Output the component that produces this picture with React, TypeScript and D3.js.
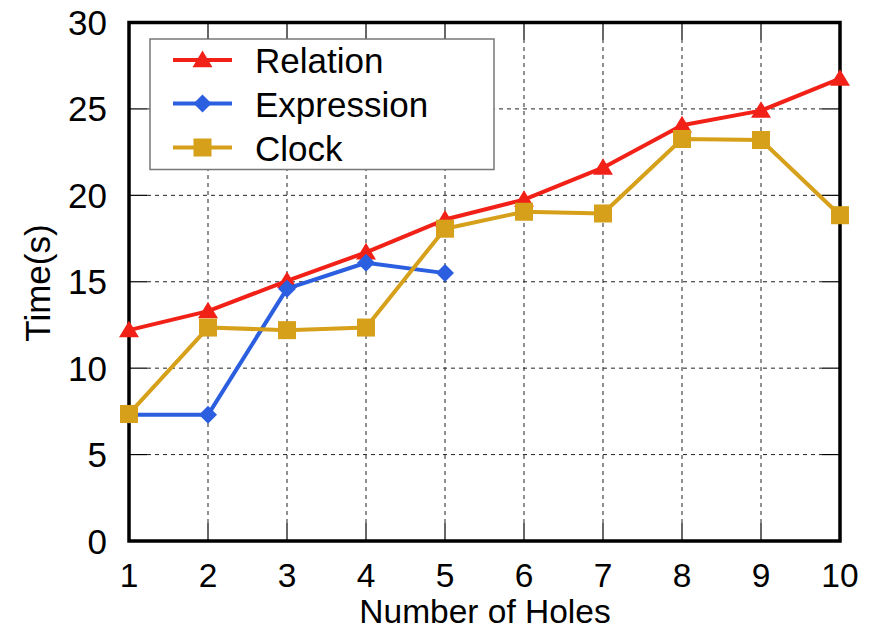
import React from "react";
import * as d3 from "d3";

const holes = [1, 2, 3, 4, 5, 6, 7, 8, 9, 10];
const relation = [12.2, 13.3, 15.05, 16.7, 18.6, 19.75, 21.6, 24.05, 24.9, 26.75];
const expression = [7.3, 7.3, 14.6, 16.1, 15.5];
const clock = [7.35, 12.35, 12.2, 12.35, 18.07, 19.05, 18.95, 23.26, 23.2, 18.85];
const yTicks = [0, 5, 10, 15, 20, 25, 30];

const W = 881, H = 630;
const L = 129, R = 840, T = 22.5, B = 541;

const series = [
  { name: "Relation", values: relation, color: "#f22118", marker: "triangle" },
  { name: "Expression", values: expression, color: "#2b5fe0", marker: "diamond" },
  { name: "Clock", values: clock, color: "#d6a01a", marker: "square" },
];

function Marker({ type, x, y, color }: { type: string; x: number; y: number; color: string }) {
  if (type === "triangle") {
    const s = 9.5;
    return <path d={`M${x},${y - s} L${x + s * 1.05},${y + s * 0.75} L${x - s * 1.05},${y + s * 0.75} Z`} fill={color} />;
  }
  if (type === "diamond") {
    const s = 9;
    return <path d={`M${x},${y - s} L${x + s},${y} L${x},${y + s} L${x - s},${y} Z`} fill={color} />;
  }
  const s = 9;
  return <rect x={x - s} y={y - s} width={2 * s} height={2 * s} fill={color} />;
}

export default function App() {
  const x = d3.scaleLinear().domain([1, 10]).range([L, R]);
  const y = d3.scaleLinear().domain([0, 30]).range([B, T]);
  const line = d3.line<number>().x((_, i) => x(holes[i])).y((d) => y(d));
  const font = "Liberation Sans, Arial, sans-serif";
  const tickLen = 18;
  const legend = { x: 150, y: 39, w: 344, h: 130.5 };
  const legendRows = [60, 103.5, 147.5];

  return (
    <svg width={W} height={H} style={{ position: "absolute", left: 0, top: 0 }} fontFamily={font}>
      <rect width={W} height={H} fill="#fff" />
      {/* grid */}
      {holes.slice(1, -1).map((h) => (
        <line key={"gx" + h} x1={x(h)} x2={x(h)} y1={B - tickLen} y2={T + tickLen} stroke="#222" strokeWidth={1} strokeDasharray="4,4" />
      ))}
      {yTicks.slice(1, -1).map((v) => (
        <line key={"gy" + v} x1={L + tickLen} x2={R - tickLen} y1={y(v)} y2={y(v)} stroke="#222" strokeWidth={1} strokeDasharray="4,4" />
      ))}
      {/* ticks */}
      {holes.slice(1, -1).map((h) => (
        <g key={"tx" + h}>
          <line x1={x(h)} x2={x(h)} y1={B} y2={B - tickLen} stroke="#000" strokeWidth={1.2} />
          <line x1={x(h)} x2={x(h)} y1={T} y2={T + tickLen} stroke="#000" strokeWidth={1.2} />
        </g>
      ))}
      {yTicks.slice(1, -1).map((v) => (
        <g key={"ty" + v}>
          <line x1={L} x2={L + tickLen} y1={y(v)} y2={y(v)} stroke="#000" strokeWidth={1.2} />
          <line x1={R} x2={R - tickLen} y1={y(v)} y2={y(v)} stroke="#000" strokeWidth={1.2} />
        </g>
      ))}
      {/* legend */}
      <rect x={legend.x} y={legend.y} width={legend.w} height={legend.h} fill="#fff" stroke="#777" strokeWidth={1.5} />
      {series.map((s, i) => (
        <g key={"lg" + s.name}>
          <line x1={173} x2={232} y1={legendRows[i]} y2={legendRows[i]} stroke={s.color} strokeWidth={4} />
          <Marker type={s.marker} x={202.5} y={legendRows[i]} color={s.color} />
          <text x={255} y={legendRows[i] + 13} fontSize={35} fill="#000">{s.name}</text>
        </g>
      ))}
      {/* frame */}
      <rect x={L} y={T} width={R - L} height={B - T} fill="none" stroke="#000" strokeWidth={3.5} />
      {/* tick labels */}
      {yTicks.map((v) => (
        <text key={"yl" + v} x={107} y={y(v) + 12.5} fontSize={35} textAnchor="end" fill="#000">{v}</text>
      ))}
      {holes.map((h) => (
        <text key={"xl" + h} x={x(h)} y={587} fontSize={33.5} textAnchor="middle" fill="#000">{h}</text>
      ))}
      <text x={485} y={623} fontSize={33.5} textAnchor="middle" fill="#000">Number of Holes</text>
      <text transform="translate(50,283) rotate(-90)" fontSize={35} textAnchor="middle" fill="#000">Time(s)</text>
      {/* series */}
      {series.map((s) => (
        <g key={s.name}>
          <path d={line(s.values) || ""} fill="none" stroke={s.color} strokeWidth={4} strokeLinejoin="round" />
          {s.values.map((v, i) => (
            <Marker key={i} type={s.marker} x={x(holes[i])} y={y(v)} color={s.color} />
          ))}
        </g>
      ))}
    </svg>
  );
}
